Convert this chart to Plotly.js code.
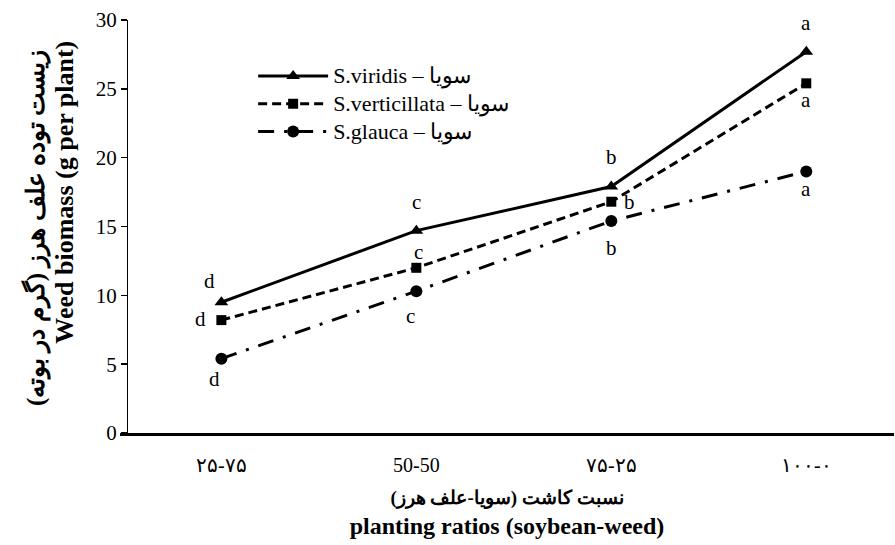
<!DOCTYPE html>
<html>
<head>
<meta charset="utf-8">
<script src="https://cdn.plot.ly/plotly-3.0.1.min.js"></script>
<style>html,body{margin:0;padding:0;background:#fff;}</style>
</head>
<body>
<div id="chart" style="width:895px;height:545px;"></div>
<script>
var categories = ["۲۵-۷۵", "50-50", "۷۵-۲۵", "۱۰۰-۰"];
var viridis = [9.5, 14.7, 17.9, 27.7];
var verticillata = [8.2, 12.0, 16.8, 25.4];
var glauca = [5.4, 10.3, 15.4, 19.0];
var viridisLetters = ["d", "c", "b", "a"];
var verticillataLetters = ["d", "c", "b", "a"];
var glaucaLetters = ["d", "c", "b", "a"];
var seriesNames = ["S.viridis – سویا", "S.verticillata – سویا", "S.glauca – سویا"];
var xTitleFa = "نسبت کاشت (سویا-علف هرز)";
var xTitleEn = "planting ratios (soybean-weed)";
var yTitleFa = "زیست توده علف هرز (گرم در بوته)";
var yTitleEn = "Weed biomass (g per plant)";

var serif = "Times New Roman, Liberation Serif, DejaVu Serif, serif";
var RLM = "\u200F";

var styles = [
  {line: {color: "#000", width: 3, dash: "solid"}, marker: {symbol: "triangle-up", size: 12, color: "#000"}},
  {line: {color: "#000", width: 3, dash: "9px,5px"}, marker: {symbol: "square", size: 10, color: "#000"}},
  {line: {color: "#000", width: 3, dash: "16px,10px,3px,10px"}, marker: {symbol: "circle", size: 12, color: "#000"}}
];
var seriesValues = [viridis, verticillata, glauca];
var traces = seriesValues.map(function (vals, i) {
  return {x: categories, y: vals, type: "scatter", mode: "lines+markers",
    name: "<span style=\"font-size:22px\">" + seriesNames[i] + "</span>",
    line: styles[i].line, marker: styles[i].marker};
});

var ann = [];
function addLetters(vals, letters, offs) {
  for (var i = 0; i < vals.length; i++) {
    ann.push({x: categories[i], y: vals[i], xref: "x", yref: "y", text: letters[i],
      showarrow: false, xshift: offs[i][0], yshift: offs[i][1],
      font: {family: serif, size: 21, color: "#000"}});
  }
}
addLetters(viridis, viridisLetters, [[-12, 21], [0, 29], [0, 30], [0, 29]]);
addLetters(verticillata, verticillataLetters, [[-21, 1], [2, 16], [18, 0], [0, -17]]);
addLetters(glauca, glaucaLetters, [[-7, -20], [-6, -25], [0, -27], [0, -18]]);

// y-axis title lines (right-aligned, i.e. top-aligned once rotated)
ann.push({xref: "paper", yref: "paper", x: -0.1098, y: 0.932, xanchor: "center", yanchor: "top",
  textangle: -90, showarrow: false, text: "<b>" + RLM + yTitleFa + RLM + "</b>",
  font: {family: serif, size: 25, color: "#000"}});
ann.push({xref: "paper", yref: "paper", x: -0.0711, y: 0.956, xanchor: "center", yanchor: "top",
  textangle: -90, showarrow: false, text: "<b>" + yTitleEn + "</b>",
  font: {family: serif, size: 26, color: "#000"}});

var layout = {
  width: 895, height: 545,
  margin: {l: 120, r: 1, t: 20, b: 112},
  paper_bgcolor: "#fff", plot_bgcolor: "#fff",
  showlegend: true,
  legend: {x: 0.172, y: 0.91, xanchor: "left", yanchor: "top",
    font: {family: serif, size: 19, color: "#000"}, itemwidth: 70,
    bgcolor: "rgba(0,0,0,0)", tracegroupgap: 0},
  xaxis: {
    type: "category", range: [-0.52, 3.45],
    showline: true, linecolor: "#000", linewidth: 2.5,
    ticks: "outside", ticklen: 12, tickcolor: "rgba(0,0,0,0)",
    showgrid: false, zeroline: false,
    tickfont: {family: serif, size: 20, color: "#000"},
    title: {text: "<b><span style=\"font-size:19px\">" + RLM + xTitleFa + RLM + "</span></b><br><b><span style=\"font-size:24px\">" + xTitleEn + "</span></b>",
      font: {family: serif, size: 23, color: "#000"}, standoff: 14}
  },
  yaxis: {
    range: [0, 30], dtick: 5, anchor: "free", position: 0.009,
    showline: true, linecolor: "#000", linewidth: 1.5,
    ticks: "outside", ticklen: 6, tickwidth: 1.5, tickcolor: "#000",
    showgrid: false, zeroline: false,
    tickfont: {family: serif, size: 21, color: "#000"}
  },
  annotations: ann
};

Plotly.newPlot("chart", traces, layout, {displayModeBar: false, staticPlot: true});
</script>
</body>
</html>
